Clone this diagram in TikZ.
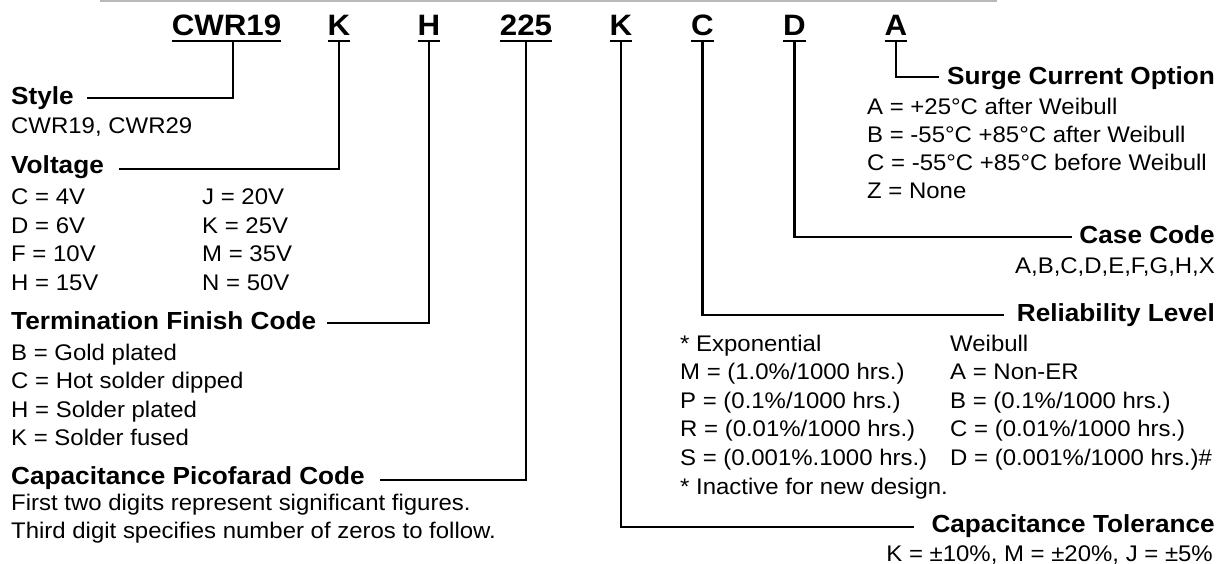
\documentclass[tikz,border=0pt]{standalone}
\usepackage{fontspec}
\setmainfont{Liberation Sans}[FakeStretch=1.06]
\newcommand{\codefont}{\fontsize{29.5}{32}\selectfont\bfseries}
\newcommand{\headfont}{\fontsize{24.7}{28}\selectfont\bfseries}
\newcommand{\bodyfont}{\fontsize{22.6}{28.5}\selectfont}

\begin{document}
\begin{tikzpicture}[x=1pt, y=-1pt,
    code/.style={font=\codefont, inner sep=0pt, anchor=base},
    head/.style={font=\headfont, inner sep=0pt},
    body/.style={font=\bodyfont, inner sep=0pt},
    lead/.style={line width=2.6pt},
    uline/.style={line width=2.8pt}]
  \useasboundingbox (0,0) rectangle (1227,564);
  \draw [gray!55, line width=1.5pt] (100,1) -- (997,1);

  % part number
  \node [code] (cwr) at (226.5,36) {CWR19};
  \node [code] (kv) at (339,36) {K};
  \node [code] (ht) at (429,36) {H};
  \node [code] (pf) at (526,36) {225};
  \node [code] (kt) at (621,36) {K};
  \node [code] (cr) at (702.5,36) {C};
  \node [code] (dc) at (794.5,36) {D};
  \node [code] (as) at (896,36) {A};
  \foreach \n in {cwr, kv, ht, pf, kt, cr, dc, as}
    \draw [uline] ([yshift=-5pt]\n.base west) -- ([yshift=-5pt]\n.base east);

  % left side
  \node [head, anchor=base west] (style) at (11,105) {Style};
  \node [body, anchor=base west] (stylev) at (11,134) {CWR19, CWR29};

  \node [head, anchor=base west] (volt) at (11,174) {Voltage};
  \foreach \t [count=\i from 0] in {C = 4V, D = 6V, F = 10V, H = 15V}
    \node [body, anchor=base west] (va\i) at (11,205+28.4*\i) {\t};
  \foreach \t [count=\i from 0] in {J = 20V, K = 25V, M = 35V, N = 50V}
    \node [body, anchor=base west] (vb\i) at (202,205+28.4*\i) {\t};

  \node [head, anchor=base west] (term) at (11,330) {Termination Finish Code};
  \foreach \t [count=\i from 0] in {B = Gold plated, C = Hot solder dipped, H = Solder plated, K = Solder fused}
    \node [body, anchor=base west] (tf\i) at (11,360+28.6*\i) {\t};

  \node [head, anchor=base west] (pico) at (11,484) {Capacitance Picofarad Code};
  \node [body, anchor=base west] (pico1) at (11,510) {First two digits represent significant figures.};
  \node [body, anchor=base west] (pico2) at (11,538) {Third digit specifies number of zeros to follow.};

  % right side
  \node [head, anchor=base east] (surge) at (1215,85) {Surge Current Option};
  \foreach \t [count=\i from 0] in {A = +25°C after Weibull, B = -55°C +85°C after Weibull, C = -55°C +85°C before Weibull, Z = None}
    \node [body, anchor=base west] (sc\i) at (867,115+28*\i) {\t};

  \node [head, anchor=base east] (case) at (1215,244) {Case Code};
  \node [body, anchor=base east] (casev) at (1215,273) {A,B,C,D,E,F,G,H,X};

  \node [head, anchor=base east] (rel) at (1215,322) {Reliability Level};
  \foreach \t [count=\i from 0] in {* Exponential, M = (1.0\%/1000 hrs.), P = (0.1\%/1000 hrs.), R = (0.01\%/1000 hrs.), S = (0.001\%.1000 hrs.), * Inactive for new design.}
    \node [body, anchor=base west] (ex\i) at (680,351+28.6*\i) {\t};
  \foreach \t [count=\i from 0] in {Weibull, A = Non-ER, B = (0.1\%/1000 hrs.), C = (0.01\%/1000 hrs.), D = (0.001\%/1000 hrs.)\#}
    \node [body, anchor=base west] (wb\i) at (950,351+28.6*\i) {\t};

  \node [head, anchor=base east] (tol) at (1215,532) {Capacitance Tolerance};
  \node [body, anchor=base east] (tolv) at (1213,561) {K = ±10\%, M = ±20\%, J = ±5\%};

  % leads
  \draw [lead] ([xshift=6.5pt,yshift=-5pt]cwr.base) |- ([xshift=13pt,yshift=7pt]style.base east);
  \draw [lead] ([yshift=-5pt]kv.base) |- ([xshift=15pt,yshift=5pt]volt.base east);
  \draw [lead] ([yshift=-5pt]ht.base) |- ([xshift=11pt,yshift=7pt]term.base east);
  \draw [lead] ([yshift=-5pt]pf.base) |- ([xshift=15pt,yshift=4pt]pico.base east);
  \draw [lead] ([yshift=-5pt]kt.base) |- ([xshift=-17pt,yshift=5pt]tol.base west);
  \draw [lead] ([yshift=-5pt]cr.base) |- ([xshift=-13pt,yshift=7pt]rel.base west);
  \draw [lead] ([yshift=-5pt]dc.base) |- ([xshift=-7pt,yshift=7pt]case.base west);
  \draw [lead] ([yshift=-5pt]as.base) |- ([xshift=-8pt,yshift=8pt]surge.base west);
\end{tikzpicture}
\end{document}
